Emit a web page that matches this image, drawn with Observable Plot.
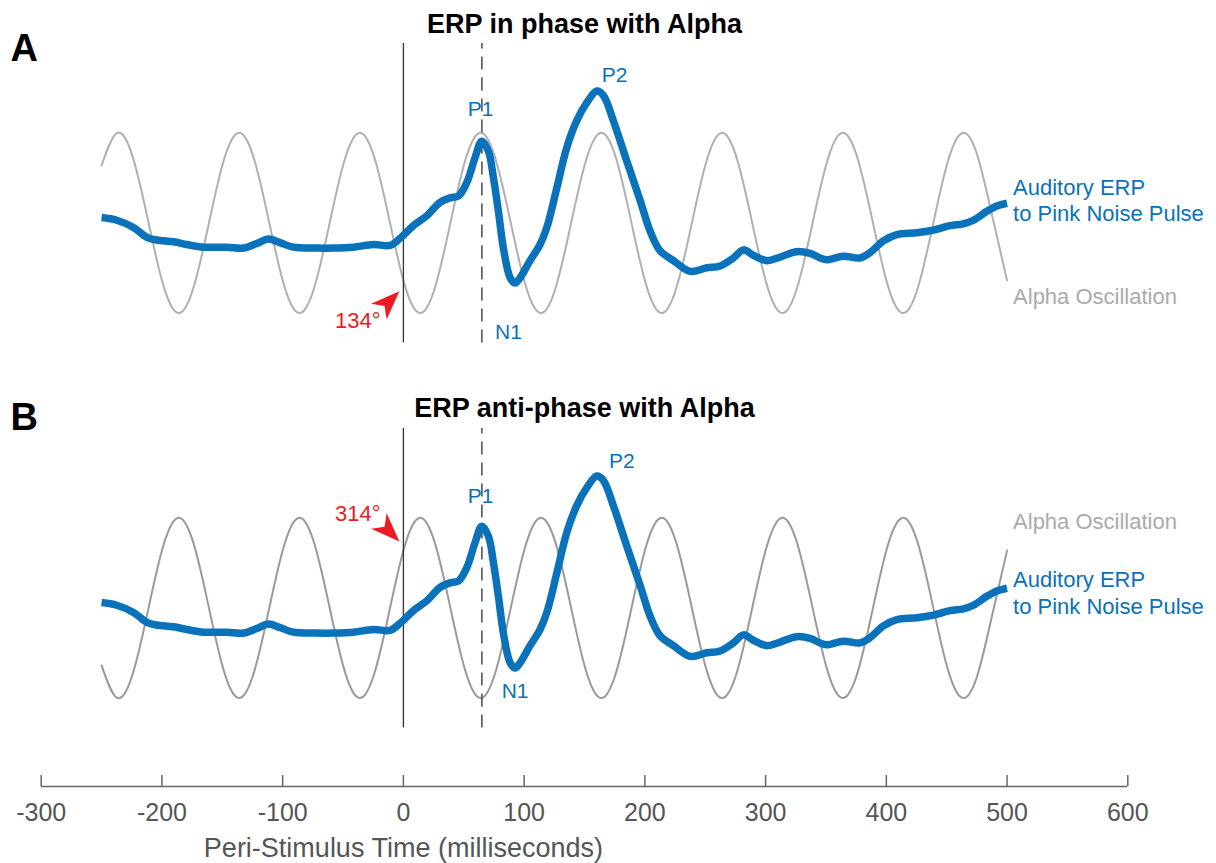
<!DOCTYPE html>
<html>
<head>
<meta charset="utf-8">
<script src="https://cdn.jsdelivr.net/npm/d3@7"></script>
<script src="https://cdn.jsdelivr.net/npm/@observablehq/plot@0.6"></script>
<style>
  html, body { margin: 0; padding: 0; background: #ffffff; }
  #chart svg { display: block; }
</style>
</head>
<body>
<div id="chart"></div>
<script>
// ---------------- data ----------------
const panels = ["A", "B"];
const titles = ["ERP in phase with Alpha", "ERP anti-phase with Alpha"];

// Alpha oscillation (10 Hz), sampled every 12.5 ms, amplitude units
const alphaT = [-250, -237.5, -225, -212.5, -200, -187.5, -175, -162.5,
  -150, -137.5, -125, -112.5, -100, -87.5, -75, -62.5,
  -50, -37.5, -25, -12.5, 0, 12.5, 25, 37.5,
  50, 62.5, 75, 87.5, 100, 112.5, 125, 137.5,
  150, 162.5, 175, 187.5, 200, 212.5, 225, 237.5,
  250, 262.5, 275, 287.5, 300, 312.5, 325, 337.5,
  350, 362.5, 375, 387.5, 400, 412.5, 425, 437.5,
  450, 462.5, 475, 487.5, 500];
const alphaA = [0.64, 1.00, 0.77, 0.09, -0.64, -1.00, -0.77, -0.09,
  0.64, 1.00, 0.77, 0.09, -0.64, -1.00, -0.77, -0.09,
  0.64, 1.00, 0.77, 0.09, -0.64, -1.00, -0.77, -0.09,
  0.64, 1.00, 0.77, 0.09, -0.64, -1.00, -0.77, -0.09,
  0.64, 1.00, 0.77, 0.09, -0.64, -1.00, -0.77, -0.09,
  0.64, 1.00, 0.77, 0.09, -0.64, -1.00, -0.77, -0.09,
  0.64, 1.00, 0.77, 0.09, -0.64, -1.00, -0.77, -0.09,
  0.64, 1.00, 0.77, 0.09, -0.64];
const alphaB = [-0.64, -1.00, -0.77, -0.09, 0.64, 1.00, 0.77, 0.09,
  -0.64, -1.00, -0.77, -0.09, 0.64, 1.00, 0.77, 0.09,
  -0.64, -1.00, -0.77, -0.09, 0.64, 1.00, 0.77, 0.09,
  -0.64, -1.00, -0.77, -0.09, 0.64, 1.00, 0.77, 0.09,
  -0.64, -1.00, -0.77, -0.09, 0.64, 1.00, 0.77, 0.09,
  -0.64, -1.00, -0.77, -0.09, 0.64, 1.00, 0.77, 0.09,
  -0.64, -1.00, -0.77, -0.09, 0.64, 1.00, 0.77, 0.09,
  -0.64, -1.00, -0.77, -0.09, 0.64];

// Auditory ERP (same waveform in both panels)
const erpT = [-250, -237.4, -223.6, -212.5, -204.3, -190.5, -179.4, -165.7, -146.3, -132.5,
  -121.4, -111.8, -102.1, -91.1, -71.7, -58.0, -41.4, -24.8, -11.0, -2.7,
  8.3, 19.4, 30.4, 38.7, 45.6, 52.5, 59.4, 64.9, 70.4, 74.5,
  78.7, 82.8, 88.4, 92.5, 96.7, 104.9, 113.2, 118.8, 127.1, 135.3,
  143.6, 151.9, 160.2, 165.7, 173.9, 185.0, 196.1, 204.3, 212.6, 223.6,
  237.5, 251.3, 262.3, 273.3, 281.6, 289.9, 301.0, 312.0, 325.8, 336.9,
  345.1, 350.7, 364.4, 378.2, 386.5, 397.6, 408.7, 425.2, 439.0, 452.8,
  463.8, 472.1, 483.2, 491.5, 500];
const erpV = [0.06, 0.03, -0.05, -0.16, -0.19, -0.21, -0.24, -0.27, -0.27, -0.28,
  -0.23, -0.18, -0.22, -0.27, -0.28, -0.28, -0.27, -0.24, -0.25, -0.17,
  -0.03, 0.08, 0.23, 0.28, 0.30, 0.45, 0.73, 0.91, 0.80, 0.51,
  0.13, -0.28, -0.61, -0.67, -0.61, -0.42, -0.24, -0.05, 0.39, 0.84,
  1.14, 1.34, 1.47, 1.42, 1.14, 0.69, 0.25, -0.09, -0.31, -0.42,
  -0.54, -0.50, -0.48, -0.39, -0.30, -0.36, -0.42, -0.38, -0.32, -0.34,
  -0.39, -0.41, -0.37, -0.39, -0.33, -0.20, -0.13, -0.11, -0.08, -0.03,
  -0.01, 0.03, 0.13, 0.19, 0.22];

const xTicks = [-300, -200, -100, 0, 100, 200, 300, 400, 500, 600];
const xLabel = "Peri-Stimulus Time (milliseconds)";
const stimulusT = 0;
const p1T = 65;

// component labels
const peakPanel = ["A", "A", "A", "B", "B", "B"];
const peakText = ["P1", "P2", "N1", "P1", "P2", "N1"];
const peakT = [64, 175, 87, 64, 181, 92.5];
const peakV = [1.27, 1.65, -1.22, 1.24, 1.63, -0.93];

// phase annotations
const phaseText = ["134°", "314°"];
const phaseT = [-19, -19];
const phaseV = [-1.09, 1.05];
const arrowV = [-0.76, 0.74];

// series labels
const erpLabel = "Auditory ERP\nto Pink Noise Pulse";
const alphaLabel = "Alpha Oscillation";
const seriesLabelT = 500;
const erpLabelV = [0.26, 0.18];
const alphaLabelV = [-0.83, 0.96];

// ---------------- layout / style ----------------
const BLUE = "#0a72ba";
const RED = "#ec1c24";
const Y_DOMAIN = [-1.99, 2];
const RULE_BOTTOM = -1.338;

const alphaRows = panels.flatMap(p => alphaT.map((t, i) => ({panel: p, t, v: p === "A" ? alphaA[i] : alphaB[i]})));
const erpRows = panels.flatMap(p => erpT.map((t, i) => ({panel: p, t, v: erpV[i]})));

function arrowHead(angleDeg) {
  const a = angleDeg * Math.PI / 180, c = Math.cos(a), s = Math.sin(a);
  const pts = [[0, 0], [-29, -11], [-21, 0], [-29, 11]];
  return {
    draw(ctx) {
      pts.forEach(([x, y], i) => {
        const X = x * c - y * s, Y = x * s + y * c;
        if (i) ctx.lineTo(X, Y); else ctx.moveTo(X, Y);
      });
      ctx.closePath();
    }
  };
}

const chart = Plot.plot({
  width: 1216,
  height: 863,
  marginTop: 43,
  marginBottom: 77,
  marginLeft: 40.7,
  marginRight: 88.7,
  style: {fontFamily: '"Liberation Sans", Arial, Helvetica, sans-serif', background: "#ffffff"},
  x: {domain: [-300, 600], axis: null},
  y: {domain: Y_DOMAIN, axis: null},
  fy: {domain: panels, axis: null, paddingInner: 0.0701, paddingOuter: 0, round: false},
  marks: [
    // alpha oscillations
    Plot.line(alphaRows.filter(d => d.panel === "A"), {x: "t", y: "v", fy: "panel", stroke: "#b0b0b0", strokeWidth: 2, curve: "natural"}),
    Plot.line(alphaRows.filter(d => d.panel === "B"), {x: "t", y: "v", fy: "panel", stroke: "#9a9a9a", strokeWidth: 2, curve: "natural"}),
    // stimulus onset & P1 latency
    Plot.ruleX([stimulusT], {x: d => d, y1: RULE_BOTTOM, y2: Y_DOMAIN[1], stroke: "#333333", strokeWidth: 1.3}),
    Plot.ruleX([p1T], {x: d => d, y1: RULE_BOTTOM, y2: Y_DOMAIN[1], stroke: "#555555", strokeWidth: 1.6, strokeDasharray: "13,8"}),
    // ERP
    Plot.line(erpRows, {x: "t", y: "v", fy: "panel", z: "panel", stroke: BLUE, strokeWidth: 7.5, curve: "catmull-rom", strokeLinecap: "butt"}),
    // component labels
    Plot.text(peakText, {text: d => d, x: (d, i) => peakT[i], y: (d, i) => peakV[i], fy: (d, i) => peakPanel[i], fill: BLUE, fontSize: 21}),
    // series labels
    Plot.text(panels, {text: () => erpLabel, x: () => seriesLabelT, y: (d, i) => erpLabelV[i], fy: d => d, textAnchor: "start", dx: 6, fontSize: 22, lineHeight: 1.21, fill: BLUE}),
    Plot.text(panels, {text: () => alphaLabel, x: () => seriesLabelT, y: (d, i) => alphaLabelV[i], fy: d => d, textAnchor: "start", dx: 6, fontSize: 22, fill: "#aaaaaa"}),
    // phase annotations
    Plot.text(phaseText, {text: d => d, x: (d, i) => phaseT[i], y: (d, i) => phaseV[i], fy: (d, i) => panels[i], textAnchor: "end", fontSize: 22, fill: RED}),
    Plot.dot([arrowV[0]], {x: () => stimulusT, y: d => d, fy: () => "A", symbol: arrowHead(-45), fill: RED, dx: -4}),
    Plot.dot([arrowV[1]], {x: () => stimulusT, y: d => d, fy: () => "B", symbol: arrowHead(45), fill: RED, dx: -4}),
    // titles and panel letters
    Plot.text(titles, {text: d => d, fy: (d, i) => panels[i], frameAnchor: "top", lineAnchor: "bottom", dy: -11, fontSize: 27, fontWeight: "bold", fill: "#000000"}),
    Plot.text(["A"], {text: d => d, fy: d => d, frameAnchor: "top-left", textAnchor: "middle", lineAnchor: "bottom", dx: -17, dy: 17, fontSize: 38, fontWeight: "bold", fill: "#000000"}),
    Plot.text(["B"], {text: d => d, fy: d => d, frameAnchor: "top-left", textAnchor: "middle", lineAnchor: "bottom", dx: -17, dy: 2, fontSize: 38, fontWeight: "bold", fill: "#000000"}),
    // shared time axis (bottom panel only)
    Plot.ruleY([Y_DOMAIN[0]], {y: d => d, x1: xTicks[0], x2: xTicks[xTicks.length - 1], fy: () => "B", stroke: "#666666", strokeWidth: 1.5}),
    Plot.ruleX(xTicks, {x: d => d, y1: Y_DOMAIN[0], y2: Y_DOMAIN[0], insetTop: -11, fy: () => "B", stroke: "#666666", strokeWidth: 1.5}),
    Plot.axisX({ticks: xTicks, tickSize: 0, tickPadding: 17, tickFormat: d => String(d), fontSize: 25, color: "#555555", label: null}),
    Plot.text([xLabel], {text: d => d, x: () => stimulusT, fy: () => "B", frameAnchor: "bottom", lineAnchor: "bottom", dy: 70, fontSize: 27, fill: "#555555"})
  ]
});
document.getElementById("chart").appendChild(chart);
</script>
</body>
</html>
